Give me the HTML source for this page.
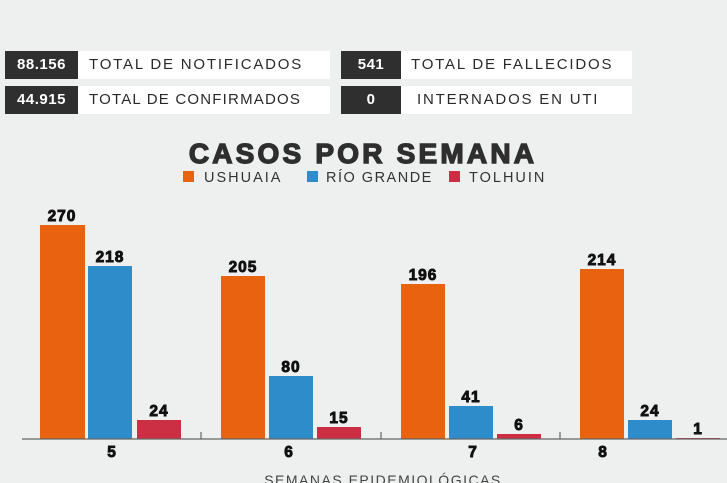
<!DOCTYPE html>
<html><head><meta charset="utf-8"><style>
body{margin:0;width:727px;height:483px;overflow:hidden;background:#eef0ef;font-family:"Liberation Sans",sans-serif;}
.abs{position:absolute}
.dk{background:#2f2f2f;color:#fff;font-weight:bold;font-size:15px;text-align:center;line-height:28px;letter-spacing:0.5px}
.wh{background:#fff;color:#2a2a2a;font-size:15px;line-height:28px;padding-left:11px;box-sizing:border-box;letter-spacing:1.8px;white-space:nowrap;overflow:hidden}
</style></head><body>
<div class="abs dk" style="left:5px;top:51px;width:73px;height:28px">88.156</div>
<div class="abs wh" style="left:78px;top:51px;width:252px;height:28px">TOTAL DE NOTIFICADOS</div>
<div class="abs dk" style="left:5px;top:86px;width:73px;height:28px">44.915</div>
<div class="abs wh" style="left:78px;top:86px;width:252px;height:28px;letter-spacing:1.2px">TOTAL DE CONFIRMADOS</div>
<div class="abs dk" style="left:341px;top:51px;width:60px;height:28px">541</div>
<div class="abs wh" style="left:401px;top:51px;width:231px;height:28px;padding-left:10px">TOTAL DE FALLECIDOS</div>
<div class="abs dk" style="left:341px;top:86px;width:60px;height:28px">0</div>
<div class="abs wh" style="left:401px;top:86px;width:231px;height:28px;padding-left:16px">INTERNADOS EN UTI</div>
<svg class="abs" style="left:0;top:0" width="727" height="483" font-family="Liberation Sans, sans-serif">
<g fill="#fff"><polygon points="78,61 83,65 78,69"/><polygon points="78,96 83,100 78,104"/><polygon points="401,61 406,65 401,69"/><polygon points="401,96 406,100 401,104"/></g>
<text x="363" y="163" text-anchor="middle" font-size="28" font-weight="bold" fill="#2e2e2e" stroke="#2e2e2e" stroke-width="1.4" letter-spacing="3.2">CASOS POR SEMANA</text>
<rect x="183" y="171" width="11" height="11" fill="#e8620f"/><text x="204" y="182" font-size="14.5" fill="#333" letter-spacing="2">USHUAIA</text>
<rect x="307" y="171" width="11" height="11" fill="#2f8ccb"/><text x="326" y="182" font-size="14.5" fill="#333" letter-spacing="1.5">RÍO GRANDE</text>
<rect x="449" y="171" width="11" height="11" fill="#cc2f43"/><text x="469" y="182" font-size="14.5" fill="#333" letter-spacing="2">TOLHUIN</text>
<g fill="#e8620f"><rect x="40" y="225" width="45" height="214"/><rect x="221" y="276" width="44" height="163"/><rect x="401" y="284" width="44" height="155"/><rect x="580" y="269" width="44" height="170"/></g>
<g fill="#2f8ccb"><rect x="88" y="266" width="44" height="173"/><rect x="269" y="376" width="44" height="63"/><rect x="449" y="406" width="44" height="33"/><rect x="628" y="420" width="44" height="19"/></g>
<g fill="#cc2f43"><rect x="137" y="420" width="44" height="19"/><rect x="317" y="427" width="44" height="12"/><rect x="497" y="434" width="44" height="5"/><rect x="676" y="438" width="44" height="1"/></g>
<g stroke="#666" stroke-width="1.2"><line x1="22" y1="439" x2="727" y2="439"/><line x1="201" y1="432" x2="201" y2="439"/><line x1="381" y1="432" x2="381" y2="439"/><line x1="560" y1="432" x2="560" y2="439"/></g>
<g font-size="15.5" font-weight="bold" fill="#111" text-anchor="middle" stroke="#111" stroke-width="0.9" letter-spacing="1">
<text x="62" y="221">270</text><text x="110" y="262">218</text><text x="159" y="416">24</text>
<text x="243" y="272">205</text><text x="291" y="372">80</text><text x="339" y="423">15</text>
<text x="423" y="280">196</text><text x="471" y="402">41</text><text x="519" y="430">6</text>
<text x="602" y="265">214</text><text x="650" y="416">24</text><text x="698" y="434">1</text>
<text x="112" y="457">5</text><text x="289" y="457">6</text><text x="473" y="457">7</text><text x="603" y="457">8</text>
</g>
<text x="383" y="485" text-anchor="middle" font-size="14" fill="#444" letter-spacing="1.5">SEMANAS EPIDEMIOLÓGICAS</text>
</svg>
</body></html>
